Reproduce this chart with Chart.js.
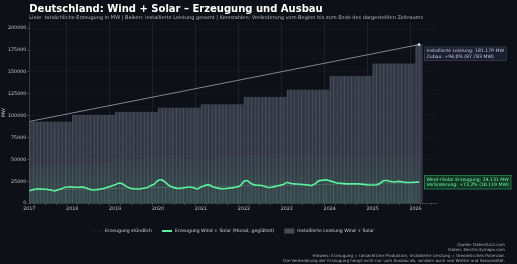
<!DOCTYPE html>
<html>
<head>
<meta charset="utf-8">
<script src="https://cdn.jsdelivr.net/npm/chart.js@4.4.1/dist/chart.umd.min.js"></script>
<style>
  html, body { margin: 0; padding: 0; background: #0d1016; }
  #wrap { width: 517px; height: 264px; }
</style>
</head>
<body>
<div id="wrap"><canvas id="chart" width="517" height="264"></canvas></div>
<script>
// Monatswerte Jan 2017 bis Feb 2026 (MW, geglaettet)
var firstYear = 2017;
var genMonthly = [
  14012, 15500, 16300, 16300, 16000, 15800, 15300, 14000, 15300, 16500, 18200, 18600,
  18600, 18300, 18300, 18400, 17300, 15800, 15100, 15500, 16300, 17000, 18500, 19800,
  21000, 22900, 22300, 19500, 17500, 16500, 16300, 16300, 17200, 18000, 20200, 22000,
  26000, 26700, 24000, 20500, 18500, 17300, 16900, 17500, 18300, 18600, 17500, 16300,
  18600, 20000, 21300, 19500, 17900, 17000, 16600, 16800, 17300, 17800, 18500, 20000,
  24800, 25600, 22500, 21000, 20500, 20200, 19000, 17900, 18500, 19400, 20400, 21300,
  23600, 22800, 22100, 22000, 21600, 21300, 20800, 20200, 22500, 25600, 26200, 26700,
  25600, 24500, 23200, 22800, 22400, 22100, 22100, 22100, 22100, 21700, 21300, 20900,
  20900, 20900, 22500, 25600, 25900, 24800, 24300, 25000, 24600, 23800, 23700, 23700,
  24000, 24131
];

// installierte Leistung je Jahr (MW)
var capYears = [2017, 2018, 2019, 2020, 2021, 2022, 2023, 2024, 2025, 2026];
var capValues = [93396, 101000, 104600, 109300, 113100, 121700, 129900, 145700, 159700, 181179];

// stuendliche Spitzen (grobe Huellkurve)
var hourlyYears = [2017, 2018, 2019, 2020, 2021, 2022, 2023, 2024, 2025, 2026.08];
var hourlyPeak = [42000, 45000, 48000, 51000, 50000, 54000, 58000, 61000, 64000, 64000];

// schwacher Trend der Erzeugung
var genTrend = [15000, 23600];

var yTicks = [0, 25000, 50000, 75000, 100000, 125000, 150000, 175000, 200000];

var legendLabels = ["Erzeugung stündlich", "Erzeugung Wind + Solar (Monat, geglättet)", "Installierte Leistung Wind + Solar"];
var footer = [
  "Quelle: Datenfuzzi.com",
  "Daten: Electricitymaps.com",
  "Hinweis: Erzeugung = tatsächliche Produktion, Installierte Leistung = theoretisches Potenzial.",
  "Die Veränderung der Erzeugung hängt nicht nur vom Ausbau ab, sondern auch von Wetter und Saisonalität."
];

var FONT = "DejaVu Sans";
var GREEN = "#5cf0a0";

var genPoints = genMonthly.map(function (v, i) { return { x: firstYear + i / 12, y: v }; });
var capBars = genMonthly.map(function (v, i) {
  return { x: firstYear + (i + 0.5) / 12, y: capValues[Math.floor(i / 12)] };
});
var lastX = firstYear + (genMonthly.length - 1) / 12;
var capStart = capValues[0], capEnd = capValues[capValues.length - 1];
var genStart = genMonthly[0], genEnd = genMonthly[genMonthly.length - 1];
var capLine = [{ x: firstYear, y: capStart }, { x: lastX, y: capEnd }];
var trendLine = [{ x: firstYear, y: genTrend[0] }, { x: lastX, y: genTrend[1] }];
var hourlyPoints = hourlyYears.map(function (yr, i) { return { x: yr, y: hourlyPeak[i] }; });

function de(n) { return Math.round(n).toLocaleString("de-DE"); }
function pct(a, b) { return ((b - a) / a * 100).toFixed(1).replace(".", ","); }

var overlay = {
  id: "overlay",
  afterDraw: function (chart) {
    var ctx = chart.ctx, a = chart.chartArea, x = chart.scales.x, y = chart.scales.y;
    ctx.save();
    // Titel
    ctx.textBaseline = "alphabetic";
    ctx.textAlign = "left";
    ctx.fillStyle = "#ffffff";
    ctx.font = "bold 10px " + FONT;
    ctx.fillText("Deutschland: Wind + Solar – Erzeugung und Ausbau", a.left, 12);
    ctx.fillStyle = "#b0b4c0";
    ctx.font = "5px " + FONT;
    ctx.fillText("Linie: tatsächliche Erzeugung in MW | Balken: installierte Leistung gesamt | Kennzahlen: Veränderung vom Beginn bis zum Ende des dargestellten Zeitraums", a.left, 18.5);

    // Kennzahl-Boxen
    function box(lines, bx, by, bg, border, col) {
      ctx.font = "4.6px " + FONT;
      var w = 0;
      lines.forEach(function (l) { w = Math.max(w, ctx.measureText(l).width); });
      var h = lines.length * 5.6 + 3;
      ctx.fillStyle = bg;
      ctx.fillRect(bx, by, w + 5, h);
      ctx.strokeStyle = border;
      ctx.lineWidth = 0.6;
      ctx.strokeRect(bx + 0.3, by + 0.3, w + 4.4, h - 0.6);
      ctx.fillStyle = col;
      ctx.textBaseline = "middle";
      lines.forEach(function (l, i) { ctx.fillText(l, bx + 2.5, by + 4.3 + i * 5.6); });
    }
    var px = x.getPixelForValue(lastX) + 5;
    box(["Installierte Leistung: " + de(capEnd) + " MW",
         "Zubau: +" + pct(capStart, capEnd) + "% (" + de(capEnd - capStart) + " MW)"],
        px, y.getPixelForValue(capEnd) + 2, "rgba(28,33,48,0.95)", "rgba(140,150,180,0.35)", "#c9cfdd");
    box(["Wind+Solar Erzeugung: " + de(genEnd) + " MW",
         "Veränderung: +" + pct(genStart, genEnd) + "% (" + de(genEnd - genStart) + " MW)"],
        px, y.getPixelForValue(genEnd) - 7, "rgba(14,58,34,0.95)", "rgba(90,230,150,0.6)", "#7dffb5");

    // Legende
    ctx.font = "4.6px " + FONT;
    ctx.textBaseline = "middle";
    var sw = 10, gap = 3, sp = 10, ly = 231;
    var widths = legendLabels.map(function (t) { return ctx.measureText(t).width; });
    var total = 0;
    widths.forEach(function (w, i) { total += sw + gap + w + (i ? sp : 0); });
    var lx = (a.left + a.right) / 2 - total / 2;
    legendLabels.forEach(function (t, i) {
      if (i === 0) { ctx.fillStyle = "rgba(80,200,130,0.06)"; ctx.fillRect(lx, ly - 1, sw, 2); }
      if (i === 1) { ctx.fillStyle = GREEN; ctx.fillRect(lx, ly - 1, sw, 2); }
      if (i === 2) { ctx.fillStyle = "rgba(110,115,135,0.6)"; ctx.fillRect(lx, ly - 2.5, sw, 5); }
      ctx.fillStyle = "#d0d3dc";
      ctx.fillText(t, lx + sw + gap, ly);
      lx += sw + gap + widths[i] + sp;
    });

    // Fusszeile
    ctx.textAlign = "right";
    ctx.fillStyle = "#a9adb8";
    ctx.font = "4.1px " + FONT;
    footer.forEach(function (t, i) { ctx.fillText(t, 505, 245 + i * 5.4); });
    ctx.restore();
  }
};

var ctx = document.getElementById("chart");
var chart = new Chart(ctx, {
  type: "bar",
  data: {
    datasets: [
      {
        type: "line",
        label: legendLabels[1],
        data: genPoints,
        borderColor: GREEN,
        borderWidth: 1.6,
        pointRadius: 0,
        tension: 0.3,
        order: 0
      },
      {
        type: "line",
        label: "Leistungstrend",
        data: capLine,
        borderColor: "rgba(200,203,212,0.7)",
        borderWidth: 0.9,
        pointRadius: [0, 1.4],
        pointBackgroundColor: "#e0e2e8",
        pointBorderWidth: 0,
        order: 1
      },
      {
        type: "line",
        label: "Erzeugungstrend",
        data: trendLine,
        borderColor: "rgba(120,200,150,0.35)",
        borderWidth: 0.7,
        pointRadius: 0,
        order: 2
      },
      {
        type: "line",
        label: legendLabels[0],
        data: hourlyPoints,
        borderWidth: 0,
        pointRadius: 0,
        tension: 0.4,
        fill: "origin",
        backgroundColor: function (c) {
          var area = c.chart.chartArea;
          if (!area) return "rgba(60,200,130,0.06)";
          var g = c.chart.ctx.createLinearGradient(0, area.bottom, 0, c.chart.scales.y.getPixelForValue(65000));
          g.addColorStop(0, "rgba(60,200,130,0.13)");
          g.addColorStop(0.6, "rgba(60,200,130,0.05)");
          g.addColorStop(1, "rgba(60,200,130,0.0)");
          return g;
        },
        order: 3
      },
      {
        label: legendLabels[2],
        data: capBars,
        backgroundColor: "rgba(105,110,130,0.42)",
        borderColor: "rgba(150,155,175,0.35)",
        borderWidth: { left: 0.6, right: 0, top: 0, bottom: 0 },
        barPercentage: 1,
        categoryPercentage: 1,
        order: 4
      }
    ]
  },
  options: {
    responsive: false,
    animation: false,
    layout: { padding: { top: 22, right: 80, bottom: 51, left: 1 } },
    plugins: {
      legend: { display: false },
      title: { display: false },
      tooltip: { enabled: false }
    },
    scales: {
      x: {
        type: "linear",
        min: 2017,
        max: 2026.5,
        offset: false,
        ticks: {
          stepSize: 0.25,
          autoSkip: false,
          maxRotation: 0,
          color: "#c0c4ce",
          font: { family: FONT, size: 4.8 },
          padding: 1,
          callback: function (v) { return Number.isInteger(v) ? String(v) : ""; }
        },
        grid: {
          color: function (c) { return c.tick && Number.isInteger(c.tick.value) ? "rgba(255,255,255,0.12)" : "rgba(0,0,0,0)"; },
          tickColor: "rgba(200,205,215,0.5)",
          tickLength: 2,
          lineWidth: 0.6
        },
        border: { color: "rgba(200,205,215,0.35)", width: 0.6 }
      },
      y: {
        min: 0,
        max: 207000,
        afterBuildTicks: function (s) { s.ticks = yTicks.map(function (v) { return { value: v }; }); },
        ticks: {
          color: "#c0c4ce",
          font: { family: FONT, size: 4.8 },
          padding: 1,
          callback: function (v) { return String(v); }
        },
        title: { display: true, text: "MW", color: "#c0c4ce", font: { family: FONT, size: 5 }, padding: 0 },
        grid: {
          color: "rgba(255,255,255,0.09)",
          tickColor: "rgba(200,205,215,0.5)",
          tickLength: 2,
          lineWidth: 0.6
        },
        border: { color: "rgba(200,205,215,0.35)", width: 0.6, dash: [1, 1] }
      }
    }
  },
  plugins: [overlay]
});
</script>
</body>
</html>
